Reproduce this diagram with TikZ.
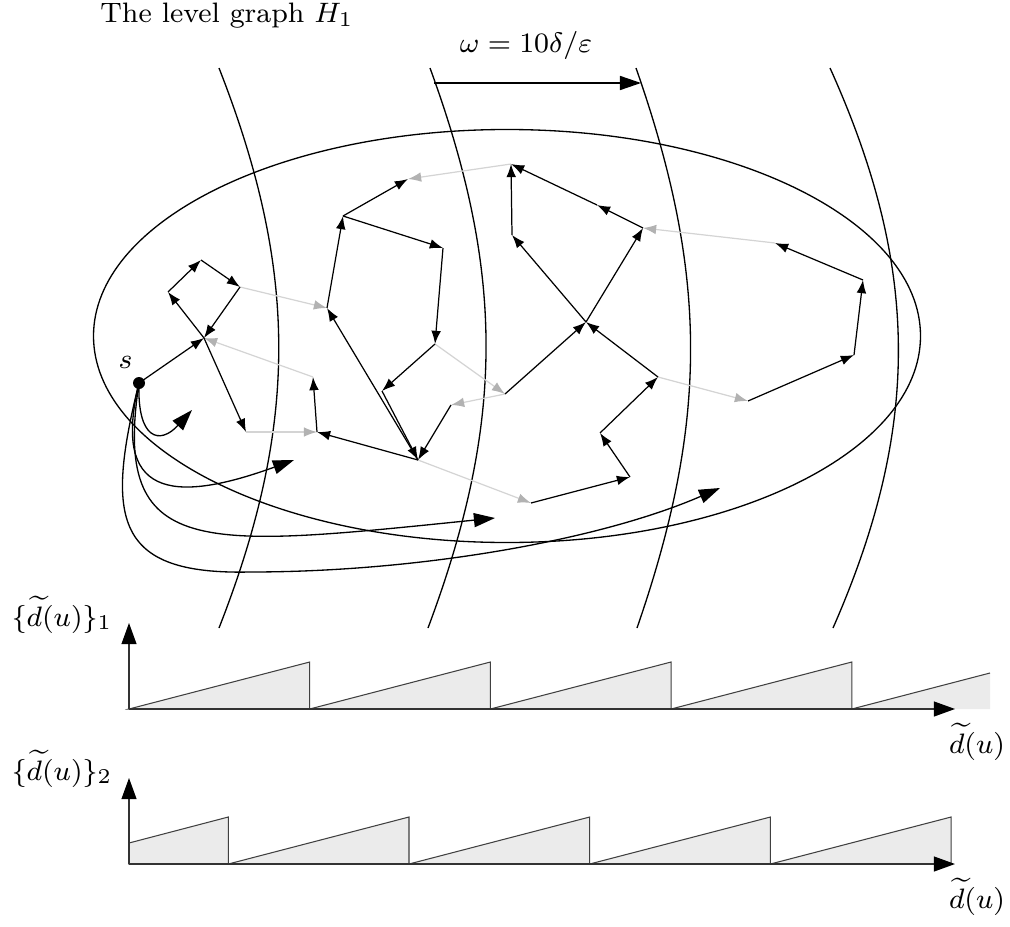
\documentclass[tikz,border=0pt]{standalone}
\usetikzlibrary{arrows.meta,positioning,calc}
\tikzset{every picture/.style={line width=0.6pt}}
\tikzset{
  graphedge/.style={line width=0.7pt,-{Latex[length=7.5pt,width=5.5pt]}},
  lightedge/.style={black!17,line width=0.7pt,-{Latex[length=7.5pt,width=5.5pt,color=black!30]}},
  longedge/.style={line width=0.75pt,-{Triangle[length=12pt,width=8pt]}},
  levelline/.style={line width=0.75pt},
  axisline/.style={black!80,line width=0.75pt,-{Triangle[length=12pt,width=8.5pt,color=black]}},
  sawtooth/.style={draw=black!75,fill=black!8,line width=0.6pt},
  lbl/.style={inner sep=0pt,scale=2,font=\fontsize{8}{9.6}\selectfont},
}

\begin{document}
\begin{tikzpicture}[x=0.02cm,y=0.02cm]
    \useasboundingbox (0,0) rectangle (1010,-926);
    % labels on top
    \node[lbl,anchor=base] (title) at (227,-23) {The level graph $H_1$};
    \node[lbl,anchor=base] (omega) at (526,-53) {$\omega = 10\delta/\varepsilon$};
    % level boundaries and the graph
    \foreach \xt/\xb/\bnd in {219/219/21.4, 430/428/20.3, 636/637/19.2, 830/833/24}
        \draw[levelline] (\xt,-68) to[bend left=\bnd] (\xb,-628);
    \draw[levelline] (507,-336) ellipse[x radius=413.5, y radius=206.5];
    \coordinate (w0) at (434,-83);
    \coordinate (w1) at (641,-83);
    \draw[longedge,line width=0.85pt] (w0) -- (w1);
    % vertices
    \coordinate (s) at (139,-383);
    \coordinate (a) at (204,-338);
    \coordinate (b) at (168,-292);
    \coordinate (c) at (201,-260);
    \coordinate (d) at (240,-287);
    \coordinate (e) at (246,-432);
    \coordinate (f) at (317,-432);
    \coordinate (g) at (313,-377);
    \coordinate (h) at (327,-308);
    \coordinate (i) at (343,-216);
    \coordinate (j) at (408,-179);
    \coordinate (k) at (511,-164);
    \coordinate (l) at (443,-248);
    \coordinate (m) at (435,-344);
    \coordinate (n) at (382,-391);
    \coordinate (o) at (451,-405);
    \coordinate (p) at (418,-460);
    \coordinate (q) at (505,-394);
    \coordinate (r) at (512,-235);
    \coordinate (t) at (586,-322);
    \coordinate (u) at (658,-377);
    \coordinate (v) at (643,-228);
    \coordinate (w) at (597,-205);
    \coordinate (x) at (775,-243);
    \coordinate (y) at (863,-280);
    \coordinate (z) at (854,-355);
    \coordinate (xa) at (748,-401);
    \coordinate (ca) at (531,-503);
    \coordinate (da) at (630,-477);
    \coordinate (ea) at (600,-433);
    \foreach \u/\v in {e/f, g/a, d/h, k/j, m/q, q/o, p/ca, u/xa, x/v}
        \draw[lightedge] (\u) -- (\v);
    \foreach \u/\v in {s/a, a/b, b/c, c/d, d/a, a/e, f/g, p/f, h/i, i/j, i/l, l/m, m/n,
                       n/p, o/p, p/h, ca/da, da/ea, ea/u, u/t, q/t, t/r, t/v, r/k,
                       v/w, w/k, y/x, z/y, xa/z}
        \draw[graphedge] (\u) -- (\v);
    % long edges out of s
    \coordinate (e1) at (192,-410);
    \coordinate (e2) at (294,-460);
    \coordinate (e3) at (495,-518);
    \coordinate (e4) at (720,-488);
    \coordinate (m4) at (250,-572);
    \draw[longedge] (s) .. controls (137,-440) and (160,-445) .. (e1);
    \draw[longedge] (s) .. controls (112,-495) and (170,-505) .. (e2);
    \draw[longedge] (s) .. controls (112,-560) and (200,-548) .. (e3);
    \draw[longedge] (s) .. controls (105,-520) and (115,-575) .. (m4)
        .. controls (420,-572) and (600,-540) .. (e4);
    \fill (s) circle[radius=6];
    \node[lbl,anchor=base] (slabel) at (125.5,-368) {$s$};
    % first sawtooth
    \foreach \k in {0,...,3}
        \filldraw[sawtooth] ({129+180.7*\k},-709) -- ({129+180.7*(\k+1)},-662) -- ({129+180.7*(\k+1)},-709) -- cycle;
    \fill[black!8] (851.8,-709) -- (990,-673) -- (990,-709) -- cycle;
    \draw[black!75] (851.8,-709) -- (990,-673);
    \coordinate (o1) at (129,-709);
    \coordinate (y1) at (129,-623);
    \coordinate (x1) at (955,-709);
    \draw[axisline] (o1) -- (y1);
    \draw[axisline] (o1) -- (x1);
    \node[lbl,anchor=base] (ylab1) at (62,-626) {$\{\widetilde{d}(u)\}_1$};
    \node[lbl,anchor=base] (xlab1) at (977,-753) {$\widetilde{d}(u)$};
    % second sawtooth
    \filldraw[sawtooth] (129,-864) -- (129,-843) -- (228.3,-817) -- (228.3,-864) -- cycle;
    \foreach \k in {0,...,3}
        \filldraw[sawtooth] ({228.3+180.7*\k},-864) -- ({228.3+180.7*(\k+1)},-817) -- ({228.3+180.7*(\k+1)},-864) -- cycle;
    \coordinate (o2) at (129,-864);
    \coordinate (y2) at (129,-778);
    \coordinate (x2) at (955,-864);
    \draw[axisline] (o2) -- (y2);
    \draw[axisline] (o2) -- (x2);
    \node[lbl,anchor=base] (ylab2) at (62,-780) {$\{\widetilde{d}(u)\}_2$};
    \node[lbl,anchor=base] (xlab2) at (977,-908) {$\widetilde{d}(u)$};
\end{tikzpicture}
\end{document}
